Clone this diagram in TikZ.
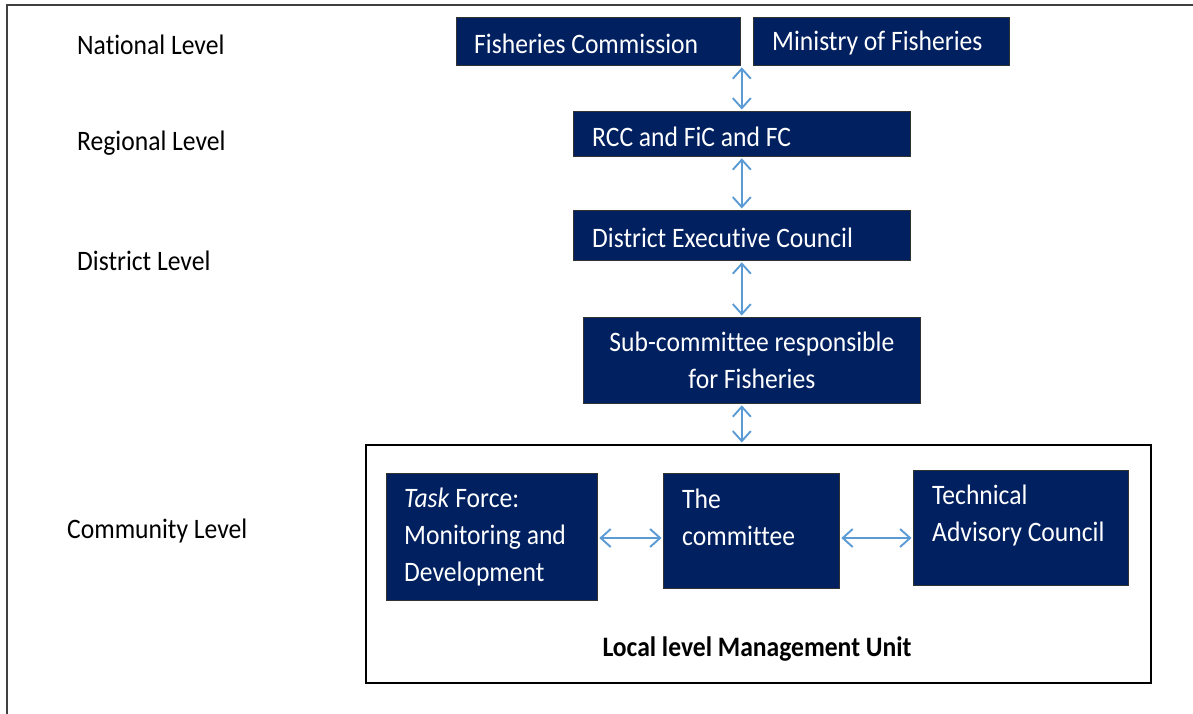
\documentclass[tikz,border=0pt]{standalone}
\usepackage{graphicx}
\usepackage{fontspec}
\setmainfont{Carlito}[Ligatures=NoCommon]
\usetikzlibrary{arrows.meta,calc}
\definecolor{navy}{RGB}{0,32,96}
\definecolor{arrowblue}{RGB}{91,155,213}
\definecolor{framegray}{RGB}{64,64,64}
\newcommand{\vst}[1]{\scalebox{1}[1.1]{#1}}
\begin{document}
\begin{tikzpicture}[x=1pt,y=-1pt,
  box/.style={draw=black!80, line width=0.8pt, fill=navy, anchor=north west, inner sep=0pt},
  boxtext/.style={text=white, font=\fontsize{25.6}{37}\selectfont, inner sep=0pt, align=left},
  lvl/.style={font=\fontsize{25.6}{30}\selectfont, anchor=west, inner sep=0pt},
  link/.style={draw=arrowblue, line width=1.9pt, shorten <=1.5pt, shorten >=1.5pt,
    {Straight Barb[length=10pt,width=18pt]}-{Straight Barb[length=10pt,width=18pt]}}]
\useasboundingbox (0,0) rectangle (1193,714);
\draw[framegray, line width=2.5pt, line join=miter] (1193,5) -- (7,5) -- (7,714);

% level labels
\node[lvl] (natl) at (77,45) {\vst{National Level}};
\node[lvl] (regl) at (77,143) {\vst{Regional Level}};
\node[lvl] (distl) at (77,261) {\vst{District Level}};
\node[lvl] (comml) at (67,531) {\vst{Community Level}};

% local level management unit frame
\node[draw=black, line width=1.5pt, fill=white, anchor=north west, inner sep=0pt,
      minimum width=785pt, minimum height=238pt] (lmu) at (365,444) {};
\node[font=\bfseries\fontsize{25.6}{30}\selectfont, inner sep=0pt] (lmut) at (757,649) {\vst{Local level Management Unit}};

% boxes
\node[box, minimum width=284pt, minimum height=48pt] (fc) at (456,17) {};
\node[box, minimum width=256pt, minimum height=48pt] (mof) at (753,17) {};
\node[box, minimum width=337pt, minimum height=45pt] (rcc) at (573,111) {};
\node[box, minimum width=337pt, minimum height=50pt] (dec) at (573,210) {};
\node[box, minimum width=337pt, minimum height=86pt] (sub) at (583,317) {};
\node[box, minimum width=211pt, minimum height=127pt] (tf) at (386,473) {};
\node[box, minimum width=176pt, minimum height=115pt] (com) at (663,473) {};
\node[box, minimum width=215pt, minimum height=115pt] (tac) at (913,470) {};

% box texts
\node[boxtext, anchor=west] (fct) at ([xshift=18pt,yshift=-2pt]fc.west) {\vst{Fisheries Commission}};
\node[boxtext, anchor=west] (moft) at ([xshift=19pt,yshift=-2pt]mof.west) {\vst{Ministry of Fisheries}};
\node[boxtext, anchor=west] (rcct) at ([xshift=19pt,yshift=-3pt]rcc.west) {\vst{RCC and FiC and FC}};
\node[boxtext, anchor=west] (dect) at ([xshift=19pt,yshift=-2pt]dec.west) {\vst{District Executive Council}};
\node[boxtext, align=center] (subt) at ([yshift=0pt]sub.center) {\vst{Sub-committee responsible}\\\vst{for Fisheries}};
\node[boxtext, anchor=base west] (tft) at ([xshift=18pt,yshift=-108pt]tf.north west) {\vst{\textit{Task} Force:}\\\vst{Monitoring and}\\\vst{Development}};
\node[boxtext, anchor=base west] (comt) at ([xshift=19pt,yshift=-72pt]com.north west) {\vst{The}\\\vst{committee}};
\node[boxtext, anchor=base west] (tact) at ([xshift=19pt,yshift=-71pt]tac.north west) {\vst{Technical}\\\vst{Advisory Council}};

% connectors
\draw[link] ([xshift=1pt]fc.south east) -- ([xshift=1pt]fc.south east |- rcc.north);
\draw[link] ([xshift=1pt]fc.south east |- rcc.south) -- ([xshift=1pt]fc.south east |- dec.north);
\draw[link] ([xshift=1pt]fc.south east |- dec.south) -- ([xshift=1pt]fc.south east |- sub.north);
\draw[link] ([xshift=1pt]fc.south east |- sub.south) -- ([xshift=1pt]fc.south east |- lmu.north);
\coordinate (hy) at (0,538);
\draw[link] (tf.east |- hy) -- (com.west |- hy);
\draw[link] (com.east |- hy) -- (tac.west |- hy);
\end{tikzpicture}
\end{document}
